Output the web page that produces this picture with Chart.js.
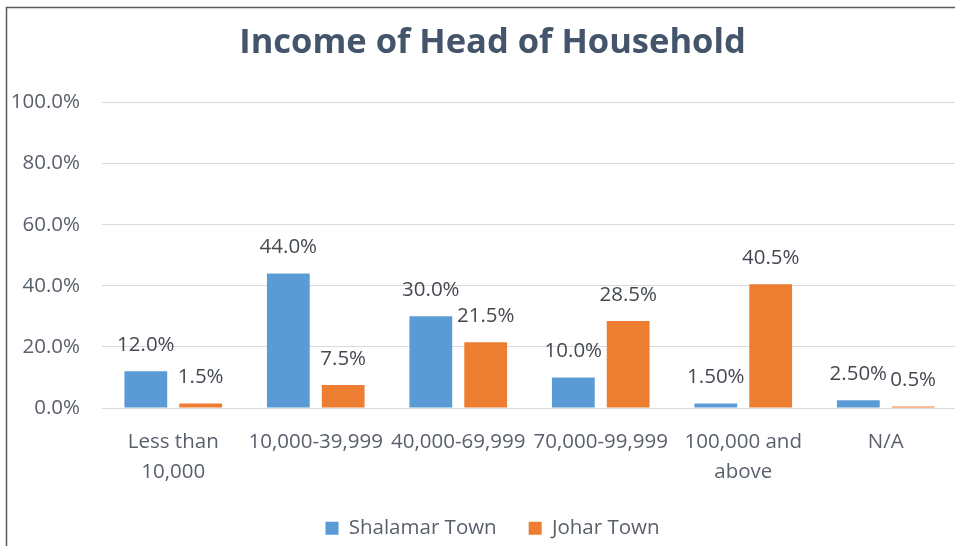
<!DOCTYPE html>
<html>
<head>
<meta charset="utf-8">
<script src="https://cdn.jsdelivr.net/npm/chart.js@4.4.0/dist/chart.umd.min.js"></script>
<style>
  html, body { margin: 0; padding: 0; background: #fff; overflow: hidden; }
  #wrap { width: 985px; height: 546px; }
</style>
</head>
<body>
<div id="wrap"><canvas id="c" width="985" height="546"></canvas></div>
<script>
const categories = [["Less than", "10,000"], "10,000-39,999", "40,000-69,999", "70,000-99,999", ["100,000 and", "above"], "N/A"];
const shalamarValues = [12.0, 44.0, 30.0, 10.0, 1.5, 2.5];
const joharValues = [1.5, 7.5, 21.5, 28.5, 40.5, 0.5];
const shalamarDecimals = [1, 1, 1, 1, 2, 2];
const joharDecimals = [1, 1, 1, 1, 1, 1];
const yTicks = [0, 20, 40, 60, 80, 100];

const FONT = "'Open Sans', 'Noto Sans', sans-serif";
const TEXT = '#595f6b';
const FS = 20.5;

const framePlugin = {
  id: 'frame',
  beforeDraw(chart) {
    const ctx = chart.ctx;
    ctx.save();
    ctx.fillStyle = '#fff';
    ctx.fillRect(0, 0, chart.width, chart.height);
    ctx.strokeStyle = '#5a5a5a';
    ctx.lineWidth = 1.5;
    ctx.beginPath();
    ctx.moveTo(6.5, chart.height);
    ctx.lineTo(6.5, 7.5);
    ctx.lineTo(chart.width, 7.5);
    ctx.stroke();
    ctx.restore();
  }
};

const labelPlugin = {
  id: 'barLabels',
  afterDatasetsDraw(chart) {
    const ctx = chart.ctx;
    ctx.save();
    ctx.font = FS + "px " + FONT;
    ctx.fillStyle = '#454a52';
    ctx.textAlign = 'center';
    ctx.textBaseline = 'middle';
    const decs = [shalamarDecimals, joharDecimals];
    chart.data.datasets.forEach((ds, di) => {
      const meta = chart.getDatasetMeta(di);
      meta.data.forEach((el, i) => {
        const txt = ds.data[i].toFixed(decs[di][i]) + '%';
        ctx.fillText(txt, el.x, el.y - 26);
      });
    });
    ctx.restore();
  }
};

new Chart(document.getElementById('c'), {
  type: 'bar',
  data: {
    labels: categories,
    datasets: [
      { label: 'Shalamar Town', data: shalamarValues, backgroundColor: '#5B9BD5', categoryPercentage: 0.77, barPercentage: 0.78 },
      { label: 'Johar Town', data: joharValues, backgroundColor: '#ED7D31', categoryPercentage: 0.77, barPercentage: 0.78 }
    ]
  },
  options: {
    responsive: false,
    animation: false,
    layout: { padding: { left: 0, right: 0, top: 0, bottom: 0 } },
    plugins: {
      title: {
        display: true,
        text: 'Income of Head of Household',
        color: '#44546A',
        font: { family: FONT, size: 34.5, weight: 'bold', lineHeight: 1.2 },
        padding: { top: 22.5, bottom: 38.6 }
      },
      legend: {
        position: 'bottom',
        maxHeight: 60,
        labels: {
          color: TEXT,
          font: { family: FONT, size: FS },
          boxWidth: 13,
          boxHeight: 13,
          padding: 32
        }
      },
      tooltip: { enabled: false }
    },
    scales: {
      x: {
        grid: { display: false },
        border: { display: true, color: '#D9D9D9' },
        afterFit(s) { s.height = 78; },
        ticks: {
          color: TEXT,
          font: { family: FONT, size: FS, lineHeight: 1.46 },
          maxRotation: 0,
          autoSkip: false,
          padding: 11
        }
      },
      y: {
        min: 0,
        max: 100,
        afterBuildTicks(s) { s.ticks = yTicks.map(v => ({ value: v })); },
        afterFit(s) { s.width = 102; },
        grid: { color: '#D9D9D9', drawTicks: false },
        border: { display: false },
        ticks: {
          color: TEXT,
          font: { family: FONT, size: FS },
          padding: 22,
          callback: v => v.toFixed(1) + '%'
        }
      },
      y2: {
        position: 'right',
        display: true,
        grid: { display: false },
        border: { display: false },
        ticks: { display: false },
        afterFit(s) { s.width = 28; }
      }
    }
  },
  plugins: [framePlugin, labelPlugin]
});
</script>
</body>
</html>
